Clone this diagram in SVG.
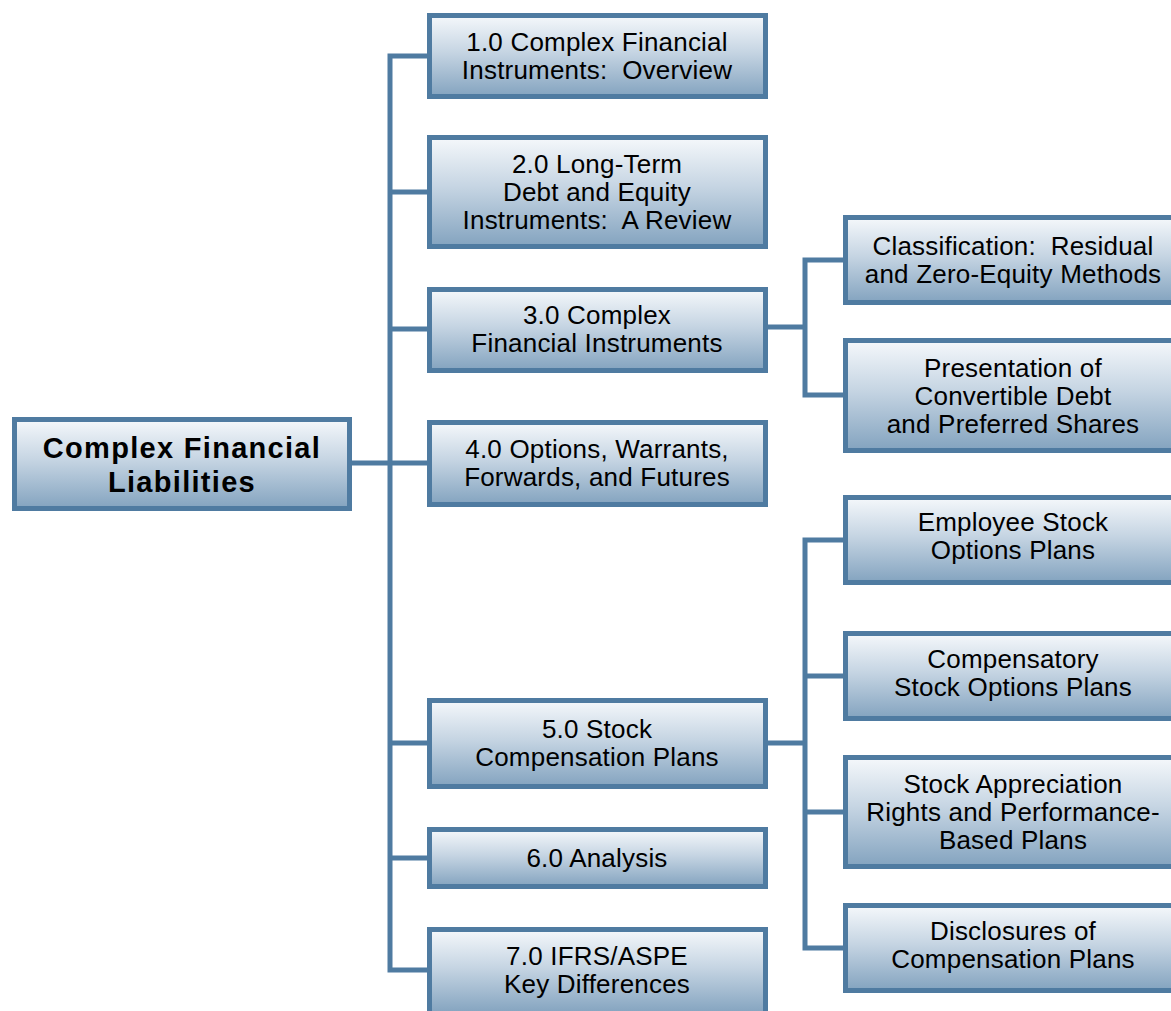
<svg xmlns="http://www.w3.org/2000/svg" width="1171" height="1011" viewBox="0 0 1171 1011">
<defs>
<linearGradient id="g" x1="0" y1="0" x2="0" y2="1">
<stop offset="0" stop-color="#f5f8fb"/>
<stop offset="0.45" stop-color="#c6d5e3"/>
<stop offset="1" stop-color="#83a3bf"/>
</linearGradient>
</defs>
<style>
.box{fill:url(#g);stroke:#4f7ba1;stroke-width:5}
.c{fill:none;stroke:#4f7ba1;stroke-width:5;stroke-linecap:square}
text{font-family:"Liberation Sans",Arial,sans-serif;font-size:26px;fill:#000;text-anchor:middle;letter-spacing:0.2px;white-space:pre}
.root{font-size:29px;font-weight:bold;letter-spacing:1.3px}
</style>
<g id="connectors">
<path class="c" d="M390 56V970M352 463H427M390 56H427M390 192H427M390 329H427M390 743H427M390 858H427M390 970H427"/>
<path class="c" d="M768 327H805M805 260V395M805 260H843M805 395H843"/>
<path class="c" d="M768 743H805M805 540V948M805 540H843M805 676H843M805 812H843M805 948H843"/>
</g>
<g id="root">
<rect class="box" x="14.5" y="419.5" width="335" height="89"/>
<text class="root" x="182" y="458">Complex Financial</text>
<text class="root" x="182" y="492">Liabilities</text>
</g>
<g id="n1">
<rect class="box" x="429.5" y="15.5" width="336" height="81"/>
<text x="597" y="51">1.0 Complex Financial</text>
<text x="597" y="79" xml:space="preserve">Instruments:  Overview</text>
</g>
<g id="n2">
<rect class="box" x="429.5" y="137.5" width="336" height="109"/>
<text x="597" y="173">2.0 Long-Term</text>
<text x="597" y="201">Debt and Equity</text>
<text x="597" y="229" xml:space="preserve">Instruments:  A Review</text>
</g>
<g id="n3">
<rect class="box" x="429.5" y="289.5" width="336" height="81"/>
<text x="597" y="324">3.0 Complex</text>
<text x="597" y="352">Financial Instruments</text>
</g>
<g id="n4">
<rect class="box" x="429.5" y="422.5" width="336" height="82"/>
<text x="597" y="458">4.0 Options, Warrants,</text>
<text x="597" y="486">Forwards, and Futures</text>
</g>
<g id="n5">
<rect class="box" x="429.5" y="700.5" width="336" height="86"/>
<text x="597" y="738">5.0 Stock</text>
<text x="597" y="766">Compensation Plans</text>
</g>
<g id="n6">
<rect class="box" x="429.5" y="829.5" width="336" height="57"/>
<text x="597" y="867">6.0 Analysis</text>
</g>
<g id="n7">
<rect class="box" x="429.5" y="929.5" width="336" height="84"/>
<text x="597" y="965">7.0 IFRS/ASPE</text>
<text x="597" y="993">Key Differences</text>
</g>
<g id="r1">
<rect class="box" x="845.5" y="217.5" width="336" height="85"/>
<text x="1013" y="255" xml:space="preserve">Classification:  Residual</text>
<text x="1013" y="283">and Zero-Equity Methods</text>
</g>
<g id="r2">
<rect class="box" x="845.5" y="340.5" width="336" height="110"/>
<text x="1013" y="377">Presentation of</text>
<text x="1013" y="405">Convertible Debt</text>
<text x="1013" y="433">and Preferred Shares</text>
</g>
<g id="r3">
<rect class="box" x="845.5" y="497.5" width="336" height="85"/>
<text x="1013" y="531">Employee Stock</text>
<text x="1013" y="559">Options Plans</text>
</g>
<g id="r4">
<rect class="box" x="845.5" y="633.5" width="336" height="85"/>
<text x="1013" y="668">Compensatory</text>
<text x="1013" y="696">Stock Options Plans</text>
</g>
<g id="r5">
<rect class="box" x="845.5" y="757.5" width="336" height="109"/>
<text x="1013" y="793">Stock Appreciation</text>
<text x="1013" y="821">Rights and Performance-</text>
<text x="1013" y="849">Based Plans</text>
</g>
<g id="r6">
<rect class="box" x="845.5" y="905.5" width="336" height="85"/>
<text x="1013" y="940">Disclosures of</text>
<text x="1013" y="968">Compensation Plans</text>
</g>
</svg>
